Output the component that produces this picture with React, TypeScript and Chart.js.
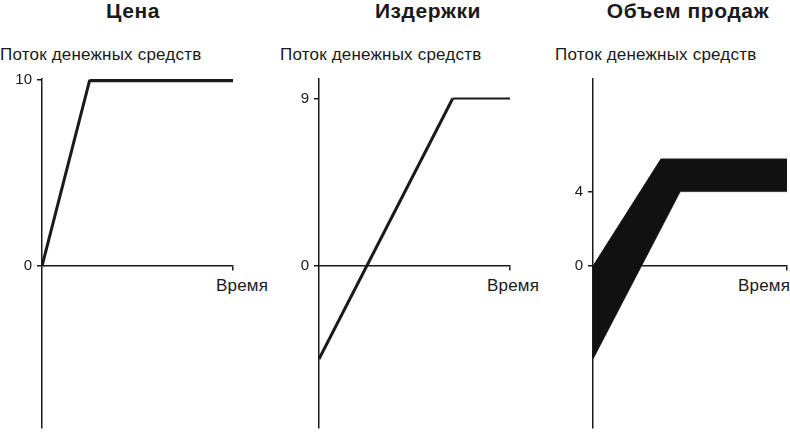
import React, { useEffect, useRef } from 'react';
import { Chart, registerables } from 'chart.js';

Chart.register(...registerables);

// time runs 0..10 on every panel, cash flow shares one vertical scale
const timeRange = [0, 10];
const flowRange = [-8.7, 10.05];

const priceX = [0, 2.5, 10];
const priceY = [0, 10, 10];
const costX = [0, 7, 10];
const costY = [-5, 9, 9];
const salesUpperX = [0, 3.5, 10];
const salesUpperY = [0, 5.75, 5.75];
const salesLowerX = [0, 4.5, 10];
const salesLowerY = [-5, 4, 4];

const priceTicks = [0, 10];
const costTicks = [0, 9];
const salesTicks = [0, 4];

const titles = ['Цена', 'Издержки', 'Объем продаж'];
const yTitle = 'Поток денежных средств';
const xTitle = 'Время';

const FONT = '"Liberation Sans", Arial, sans-serif';
const INK = '#1a1a1a';

const pts = (xs: number[], ys: number[]) => xs.map((x, i) => ({ x, y: ys[i] }));

interface PanelProps {
    left: number;
    width: number;
    datasets: any[];
    ticks: number[];
}

const Panel: React.FC<PanelProps> = ({ left, width, datasets, ticks }) => {
    const chartRef = useRef<HTMLCanvasElement>(null);

    useEffect(() => {
        if (!chartRef.current) return;
        const chart = new Chart(chartRef.current, {
            type: 'line',
            data: { datasets },
            options: {
                responsive: true,
                maintainAspectRatio: false,
                animation: false,
                events: [],
                layout: { padding: { top: 10, right: 3, bottom: 2, left: 0 } },
                plugins: { legend: { display: false }, tooltip: { enabled: false } },
                elements: { point: { radius: 0 }, line: { tension: 0 } },
                scales: {
                    x: {
                        type: 'linear',
                        position: { y: 0 } as any,
                        min: timeRange[0],
                        max: timeRange[1],
                        afterBuildTicks: (s: any) => { s.ticks = [{ value: timeRange[1] }]; },
                        ticks: { display: false },
                        grid: { drawOnChartArea: false, drawTicks: true, tickLength: 4, color: INK, lineWidth: 1.5 },
                        border: { display: true, color: INK, width: 1.5 },
                    },
                    y: {
                        type: 'linear',
                        min: flowRange[0],
                        max: flowRange[1],
                        afterFit: (s: any) => { s.width = 42; },
                        afterBuildTicks: (s: any) => { s.ticks = ticks.map((v) => ({ value: v })); },
                        ticks: { color: INK, padding: 5, font: { family: FONT, size: 15 } },
                        grid: { drawOnChartArea: false, drawTicks: true, tickLength: 5, color: INK, lineWidth: 1.5 },
                        border: { display: true, color: INK, width: 1.5 },
                    },
                },
            },
        });
        return () => chart.destroy();
    }, []);

    return (
        <div style={{ position: 'absolute', left, top: 65, width, height: 377 }}>
            <canvas ref={chartRef} />
        </div>
    );
};

const label = (text: string, left: number, top: number, size: number, bold = false, center = false) => (
    <div
        style={{
            position: 'absolute',
            left: center ? left - 150 : left,
            width: center ? 300 : undefined,
            textAlign: center ? 'center' : 'left',
            top,
            fontFamily: FONT,
            fontSize: size,
            lineHeight: size <= 17 ? '20px' : '26px',
            fontWeight: bold ? 700 : 400,
            letterSpacing: bold ? 0.6 : 0.2,
            color: INK,
            whiteSpace: 'nowrap',
        }}
    >
        {text}
    </div>
);

export default function App() {
    const priceSets = [
        {
            data: pts(priceX, priceY),
            borderColor: INK,
            borderWidth: 3,
            segment: { borderWidth: (c: any) => (c.p0DataIndex === 0 ? 3 : 4.5) },
            fill: false,
        },
    ];
    const costSets = [
        {
            data: pts(costX, costY),
            borderColor: INK,
            borderWidth: 3,
            segment: { borderWidth: (c: any) => (c.p0DataIndex === 0 ? 3 : 2) },
            fill: false,
        },
    ];
    const salesSets = [
        { data: pts(salesUpperX, salesUpperY), borderColor: INK, borderWidth: 1, backgroundColor: '#111', fill: '+1' },
        { data: pts(salesLowerX, salesLowerY), borderColor: '#666', borderWidth: 1, fill: false },
    ];

    return (
        <div style={{ position: 'absolute', left: 0, top: 0, width: 790, height: 433, background: '#fff', overflow: 'hidden' }}>
            {label(titles[0], 133, -2, 21, true, true)}
            {label(titles[1], 428, -2, 21, true, true)}
            {label(titles[2], 688, -2, 21, true, true)}
            {label(yTitle, 0, 45, 17)}
            {label(yTitle, 280, 45, 17)}
            {label(yTitle, 555, 45, 17)}
            {label(xTitle, 216, 276, 17)}
            {label(xTitle, 487, 276, 17)}
            {label(xTitle, 738, 276, 17)}
            <Panel left={0} width={236} datasets={priceSets} ticks={priceTicks} />
            <Panel left={277} width={236} datasets={costSets} ticks={costTicks} />
            <Panel left={551} width={239} datasets={salesSets} ticks={salesTicks} />
        </div>
    );
}
